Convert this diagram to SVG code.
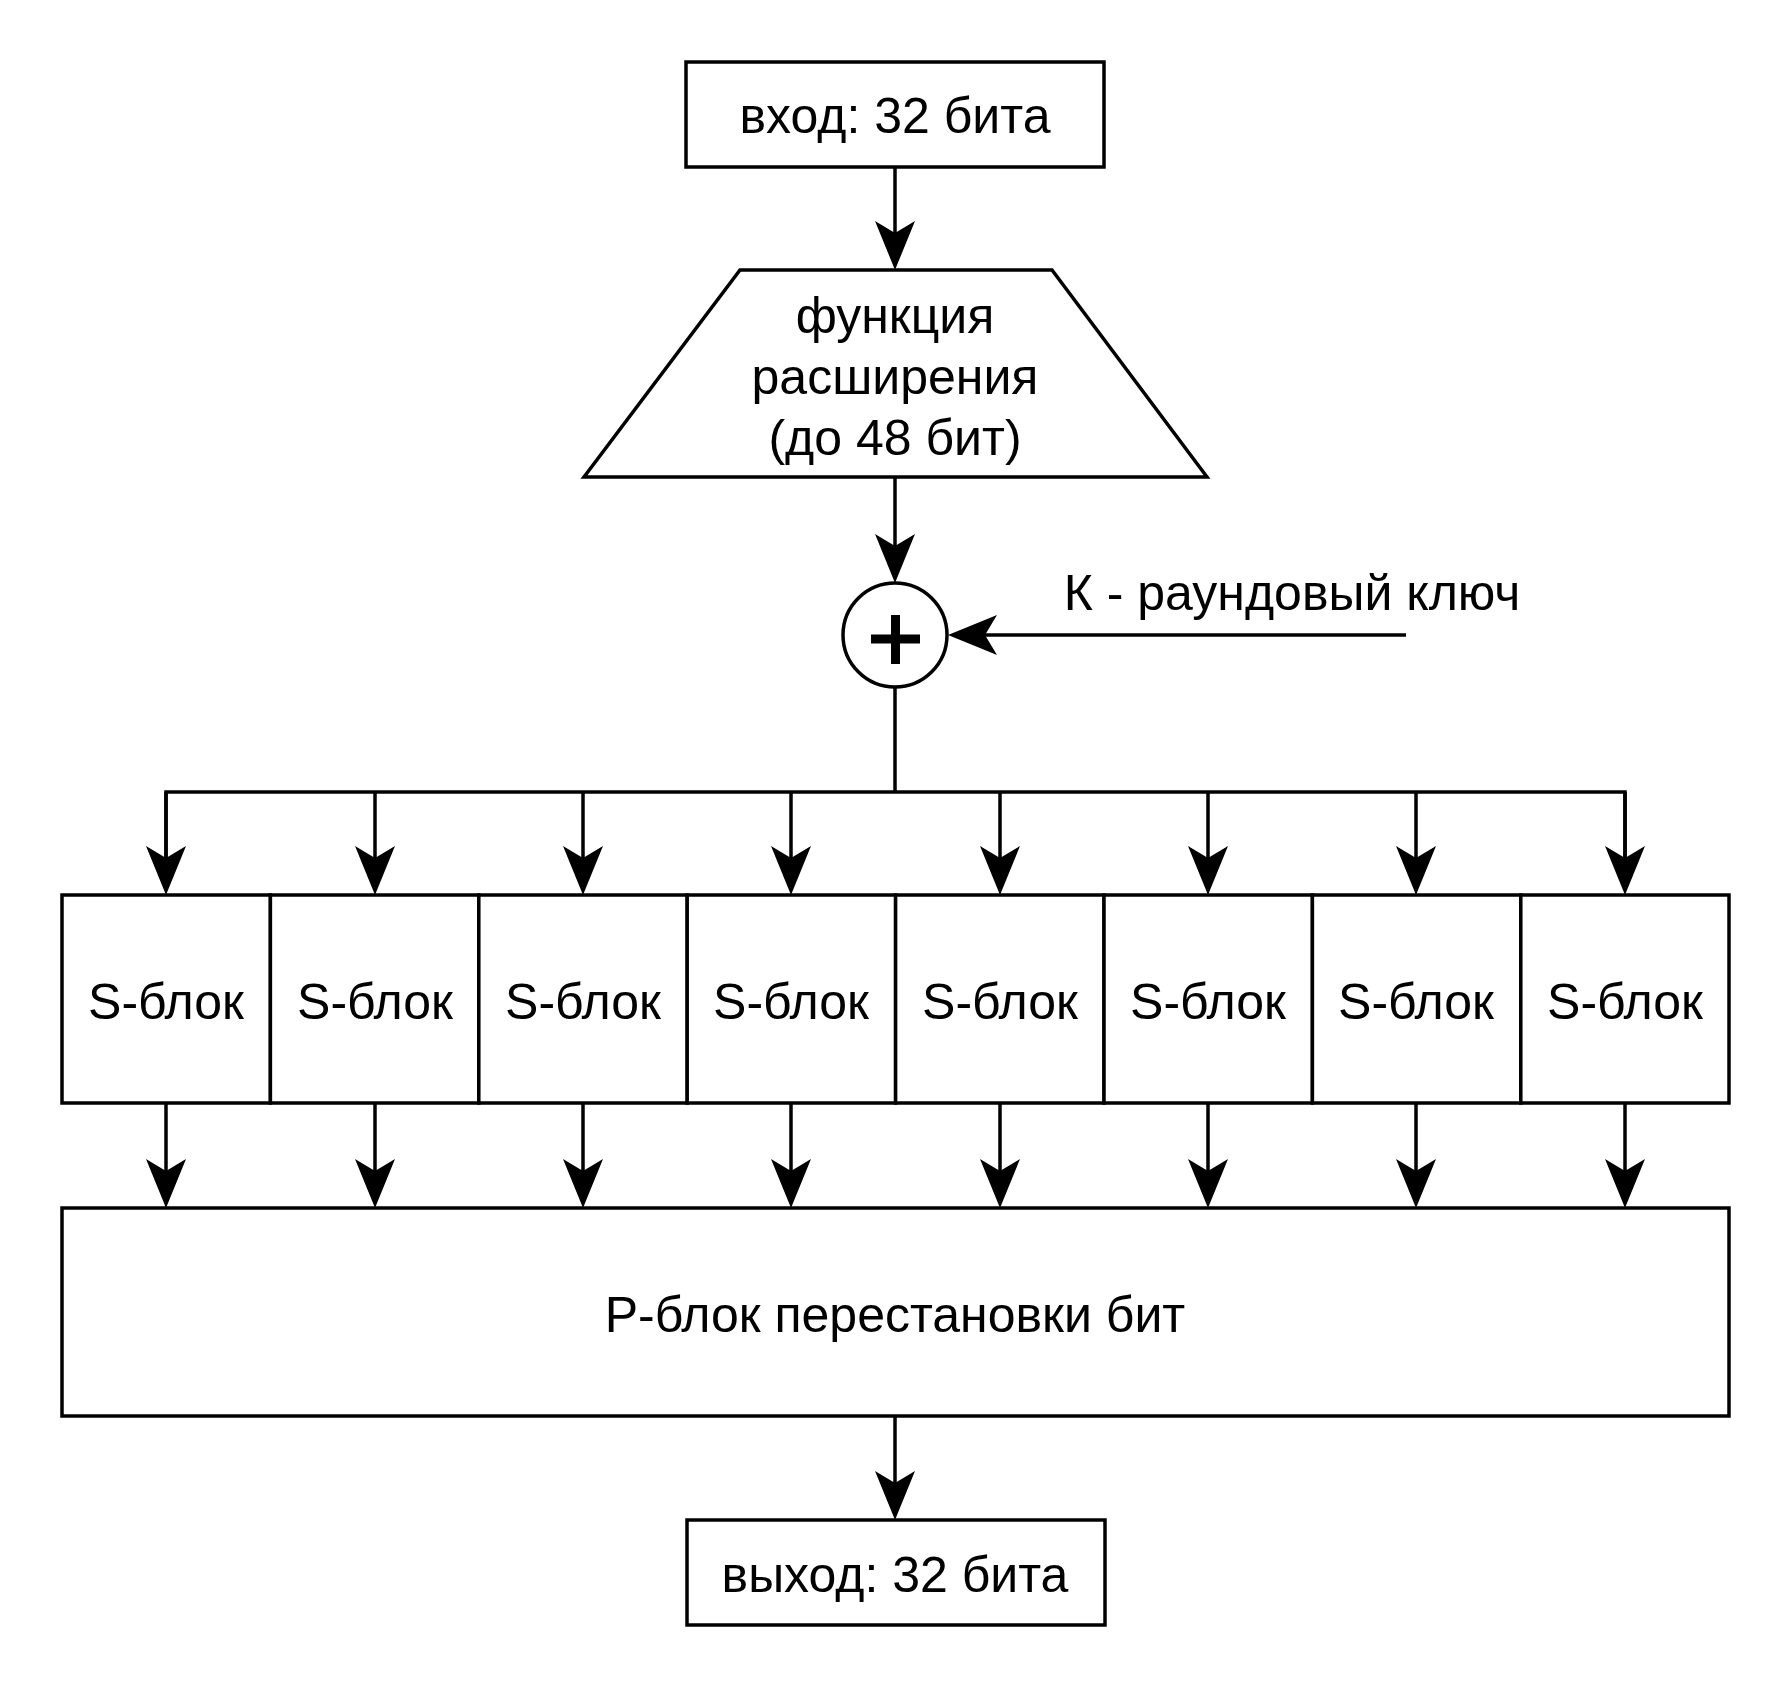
<svg xmlns="http://www.w3.org/2000/svg" width="1791" height="1687" viewBox="0 0 1791 1687">
<style>
.sh{fill:#fff;stroke:#000;stroke-width:3.5}
.t{font-family:"Liberation Sans",Arial,sans-serif;font-size:50px;fill:#000;text-anchor:middle}
.c{fill:none;stroke:#000;stroke-width:3.5}
.a{marker-end:url(#ah)}
</style>
<defs>
<marker id="ah" markerUnits="userSpaceOnUse" markerWidth="60" markerHeight="50" refX="0" refY="0" orient="auto" overflow="visible" viewBox="-20 -25 60 50">
<path d="M37,0 L-12,-20 L0,0 L-12,20 Z" fill="#000" stroke="none"/>
</marker>
</defs>
<rect width="1791" height="1687" fill="#fff"/>
<g id="connectors">
<line class="c a" x1="895" y1="167" x2="895" y2="233"/>
<line class="c a" x1="895" y1="477" x2="895" y2="546"/>
<line class="c a" x1="1406" y1="635" x2="985" y2="635"/>
<polyline class="c" points="166,858 166,792 1625,792 1625,858"/>
<line class="c" x1="895" y1="688" x2="895" y2="792"/>
<line class="c a" x1="166" y1="792" x2="166" y2="858"/>
<line class="c a" x1="375" y1="792" x2="375" y2="858"/>
<line class="c a" x1="583" y1="792" x2="583" y2="858"/>
<line class="c a" x1="791" y1="792" x2="791" y2="858"/>
<line class="c a" x1="1000" y1="792" x2="1000" y2="858"/>
<line class="c a" x1="1208" y1="792" x2="1208" y2="858"/>
<line class="c a" x1="1416" y1="792" x2="1416" y2="858"/>
<line class="c a" x1="1625" y1="792" x2="1625" y2="858"/>
<line class="c a" x1="166" y1="1103" x2="166" y2="1171"/>
<line class="c a" x1="375" y1="1103" x2="375" y2="1171"/>
<line class="c a" x1="583" y1="1103" x2="583" y2="1171"/>
<line class="c a" x1="791" y1="1103" x2="791" y2="1171"/>
<line class="c a" x1="1000" y1="1103" x2="1000" y2="1171"/>
<line class="c a" x1="1208" y1="1103" x2="1208" y2="1171"/>
<line class="c a" x1="1416" y1="1103" x2="1416" y2="1171"/>
<line class="c a" x1="1625" y1="1103" x2="1625" y2="1171"/>
<line class="c a" x1="895" y1="1416" x2="895" y2="1483"/>
</g>
<g id="input">
<rect class="sh" x="686" y="62" width="418" height="105"/>
<text class="t" x="895" y="133">вход: 32 бита</text>
</g>
<g id="expansion">
<polygon class="sh" points="740,270 1052,270 1207,477 584,477"/>
<text class="t" x="895" y="333">функция</text>
<text class="t" x="895" y="394">расширения</text>
<text class="t" x="895" y="455">(до 48 бит)</text>
</g>
<g id="xor">
<circle class="sh" cx="895" cy="635" r="52"/>
<path d="M871,639 H920 M895.5,615 V664" stroke="#000" stroke-width="9" fill="none"/>
</g>
<g id="key">
<text class="t" x="1292" y="610">К - раундовый ключ</text>
</g>
<g id="s1"><rect class="sh" x="62" y="895" width="208.4" height="208"/><text class="t" x="166" y="1019">S-блок</text></g>
<g id="s2"><rect class="sh" x="270.4" y="895" width="208.4" height="208"/><text class="t" x="375" y="1019">S-блок</text></g>
<g id="s3"><rect class="sh" x="478.8" y="895" width="208.4" height="208"/><text class="t" x="583" y="1019">S-блок</text></g>
<g id="s4"><rect class="sh" x="687.2" y="895" width="208.4" height="208"/><text class="t" x="791" y="1019">S-блок</text></g>
<g id="s5"><rect class="sh" x="895.6" y="895" width="208.4" height="208"/><text class="t" x="1000" y="1019">S-блок</text></g>
<g id="s6"><rect class="sh" x="1104" y="895" width="208.4" height="208"/><text class="t" x="1208" y="1019">S-блок</text></g>
<g id="s7"><rect class="sh" x="1312.4" y="895" width="208.4" height="208"/><text class="t" x="1416" y="1019">S-блок</text></g>
<g id="s8"><rect class="sh" x="1520.8" y="895" width="208.2" height="208"/><text class="t" x="1625" y="1019">S-блок</text></g>
<g id="pblock">
<rect class="sh" x="62" y="1208" width="1667" height="208"/>
<text class="t" x="895" y="1332">P-блок перестановки бит</text>
</g>
<g id="output">
<rect class="sh" x="687" y="1520" width="418" height="105"/>
<text class="t" x="895" y="1592">выход: 32 бита</text>
</g>
</svg>
